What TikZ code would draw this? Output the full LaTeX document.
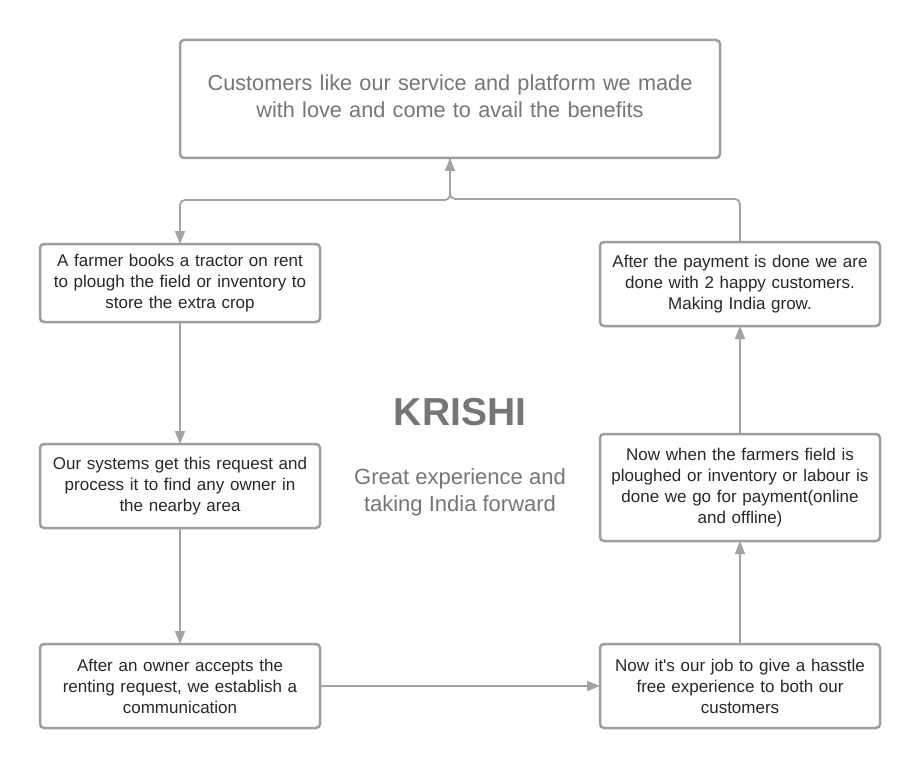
\documentclass[tikz,border=0pt]{standalone}
\usepackage{fontspec}
\setmainfont{Liberation Sans}
\usetikzlibrary{positioning,arrows.meta,calc}
\definecolor{boxgray}{RGB}{158,158,158}
\definecolor{linegray}{RGB}{163,163,163}
\definecolor{textgray}{RGB}{118,118,118}
\definecolor{inkgray}{RGB}{40,40,40}

\begin{document}
\begin{tikzpicture}[
    x=1pt, y=-1pt,
    node distance=122pt and 280pt,
    stepbox/.style={
        rectangle, draw=boxgray, line width=2.5pt, fill=white, outer sep=0pt,
        text width=270pt, minimum width=280pt, minimum height=84pt,
        inner sep=3pt, align=center, rounded corners=4pt, text=inkgray,
        font=\fontsize{17}{21}\selectfont
    },
    headbox/.style={
        stepbox, text width=530pt, minimum width=540pt, minimum height=118pt,
        text=textgray, font=\fontsize{21.7}{27}\selectfont
    },
    flow/.style={draw=linegray, line width=1.8pt, rounded corners=5pt,
        -{Triangle[length=13pt, width=10pt]}},
    titletext/.style={text=textgray, font=\fontsize{39}{44}\selectfont\bfseries},
    subtext/.style={text=textgray, align=center, font=\fontsize{22}{27}\selectfont}
]
    \path[use as bounding box] (0,0) rectangle (920,770);

    \node[headbox] (head) at (450,99) {Customers like our service and platform we made\\with love and come to avail the benefits\vspace{6pt}};
    \node[stepbox, minimum height=78pt] (farmer) at (180,283) {A farmer books a tractor on rent\\to plough the field or inventory to\\store the extra crop};
    \node[stepbox, below=of farmer] (system) {Our systems get this request and\\process it to find any owner in\\the nearby area};
    \node[stepbox, below=116pt of system] (owner) {After an owner accepts the\\renting request, we establish a\\communication};
    \node[stepbox, right=of owner] (hassle) {Now it\textquotesingle s our job to give a hasstle\\free experience to both our\\customers};
    \node[stepbox, above=103pt of hassle, minimum height=107pt] (payment) {Now when the farmers field is\\ploughed or inventory or labour is\\done we go for payment(online\\and offline)};
    \node[stepbox, above=108pt of payment] (done) {After the payment is done we are\\done with 2 happy customers.\\Making India grow.};

    \node[titletext] (krishi) at (460,412) {KRISHI};
    \node[subtext] (tagline) at (460,492) {Great experience and\\taking India forward};

    \draw[flow] (done.north) -- ++(0,-43) -| (head.south);
    \draw[flow] (head.south) -- ++(0,42) -| (farmer.north);
    \draw[flow] (farmer) -- (system);
    \draw[flow] (system) -- (owner);
    \draw[flow] (owner) -- (hassle);
    \draw[flow] (hassle) -- (payment);
    \draw[flow] (payment) -- (done);
\end{tikzpicture}
\end{document}
